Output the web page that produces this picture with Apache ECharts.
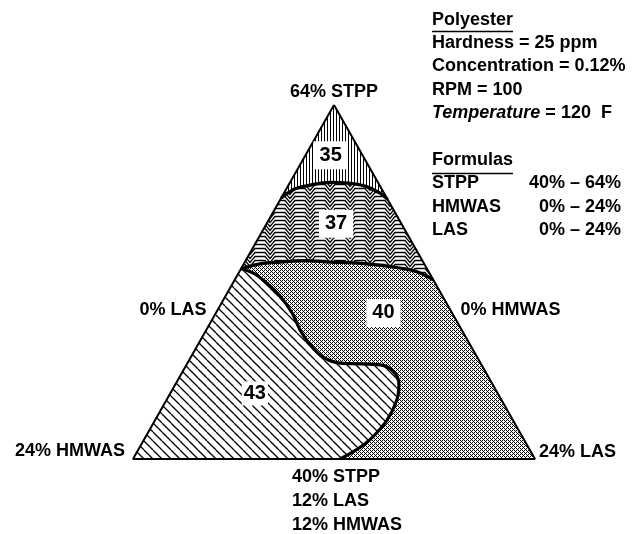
<!DOCTYPE html>
<html>
<head>
<meta charset="utf-8">
<script src="https://cdn.jsdelivr.net/npm/echarts@6/dist/echarts.min.js"></script>
<style>
  html, body { margin: 0; background: #fff; }
  #chart { width: 636px; height: 534px; }
</style>
</head>
<body>
<div id="chart"></div>
<script>
// ternary points are [LAS %, HMWAS %]; STPP = 64 - LAS - HMWAS
const apex = [0, 0]        // 64% STPP
const leftCorner = [0, 24]  // 24% HMWAS
const rightCorner = [24, 0] // 24% LAS

// contour boundaries
const curve35to37 = [[0, 6.3], [0.5, 5.2], [1.4, 4.0], [2.4, 2.85], [3.5, 1.8], [4.6, 0.9], [5.7, 0.25], [6.4, 0]]
const curve37to40 = [[0, 11.1], [0.97, 9.8], [2.1, 8.55], [3.55, 7.0], [5.1, 5.55], [6.6, 4.1], [8.15, 2.7], [9.45, 1.6], [10.6, 0.7], [11.85, 0]]
const curve40to43 = [[0, 11.1], [1.0, 10.45], [2.05, 10.05], [3.25, 9.7], [4.55, 9.55], [5.6, 9.65], [6.7, 9.55], [7.9, 9.2],
  [9.1, 8.4], [10.45, 7.1], [11.75, 5.9], [12.75, 5.45], [13.35, 5.6], [13.75, 6.25], [13.85, 7.5], [13.55, 9.0], [13.05, 10.3], [12.36, 11.64]]

const contourValues = [35, 37, 40, 43]
const contourLabelAt = [[1.5, 1.9], [4.15, 3.9], [10.0, 4.1], [5.05, 14.5]]

const cornerLabels = ['64% STPP', '24% HMWAS', '24% LAS']
const sideLabels = ['0% LAS', '0% HMWAS']
const baseLabel = ['40% STPP', '12% LAS', '12% HMWAS']

const conditions = ['Hardness = 25 ppm', 'Concentration = 0.12%', 'RPM = 100', '{i|Temperature} = 120  F']
const formulaNames = ['STPP', 'HMWAS', 'LAS']
const formulaRanges = ['40% \u2013 64%', '0% \u2013 24%', '0% \u2013 24%']

const FONT = '"Liberation Sans", Arial, sans-serif'

function toXY(p) {
  return [p[0] - p[1], 64 - p[0] - p[1]]
}

function makePattern(w, h, draw) {
  const c = document.createElement('canvas')
  c.width = w
  c.height = h
  const ctx = c.getContext('2d')
  ctx.fillStyle = '#fff'
  ctx.fillRect(0, 0, w, h)
  ctx.fillStyle = '#000'
  ctx.strokeStyle = '#000'
  draw(ctx, w, h)
  return { image: c, repeat: 'repeat' }
}

const verticalLines = makePattern(3, 4, ctx => ctx.fillRect(0, 0, 1, 4))
const zigzag = makePattern(20, 16, ctx => {
  ctx.lineWidth = 1.3
  for (let y = -16; y <= 16; y += 4) {
    ctx.beginPath()
    ctx.moveTo(0, y + 0.5)
    ctx.lineTo(5, y + 0.5)
    ctx.lineTo(10, y + 6.5)
    ctx.lineTo(15, y + 0.5)
    ctx.lineTo(20, y + 0.5)
    ctx.stroke()
  }
})
const stipple = makePattern(4, 4, ctx => {
  ctx.fillRect(0, 0, 1, 1)
  ctx.fillRect(2, 0, 1, 1)
  ctx.fillRect(1, 1, 1, 1)
  ctx.fillRect(0, 2, 1, 1)
  ctx.fillRect(2, 2, 1, 1)
  ctx.fillRect(3, 3, 1, 1)
})
const hatch = makePattern(9, 9, ctx => {
  ctx.lineWidth = 1.3
  for (let k = -1; k <= 1; k++) {
    ctx.beginPath()
    ctx.moveTo(0, k * 9)
    ctx.lineTo(9, k * 9 + 9)
    ctx.stroke()
  }
})

const regions = [
  [apex, ...curve35to37],
  [...curve35to37, ...curve37to40.slice().reverse()],
  [...curve37to40, rightCorner, ...curve40to43.slice().reverse()],
  [...curve40to43, leftCorner]
]
const fills = [verticalLines, zigzag, stipple, hatch]

const boundary = (pts) => ({
  type: 'line',
  data: pts.map(toXY),
  smooth: 0.35,
  symbol: 'none',
  lineStyle: { color: '#000', width: 3.2 },
  z: 3
})

const labelBase = {
  show: true, color: '#000', opacity: 1, fontFamily: FONT, fontWeight: 'bold', fontSize: 18,
  textBorderWidth: 0, textShadowBlur: 0
}

const chart = echarts.init(document.getElementById('chart'))
chart.setOption({
  animation: false,
  backgroundColor: '#fff',
  grid: { left: 133, right: 101, top: 105, bottom: 75 },
  xAxis: { type: 'value', min: -24, max: 24, show: false },
  yAxis: { type: 'value', min: 40, max: 64, show: false },
  series: [
    {
      type: 'custom',
      clip: false,
      data: regions.map((r, i) => i),
      renderItem(params, api) {
        const pts = regions[params.dataIndex].map(p => api.coord(toXY(p)))
        return { type: 'polygon', shape: { points: pts }, style: { fill: fills[params.dataIndex], stroke: null } }
      },
      z: 1
    },
    boundary(curve35to37),
    boundary(curve37to40),
    boundary(curve40to43),
    {
      type: 'line',
      data: [apex, leftCorner, rightCorner, apex].map(toXY),
      symbol: 'none',
      lineStyle: { color: '#000', width: 2 },
      z: 4
    },
    {
      type: 'scatter',
      symbolSize: 1,
      itemStyle: { color: 'rgba(0,0,0,0)', opacity: 1 },
      z: 6,
      data: [
        ...contourValues.map((v, i) => ({
          value: toXY(contourLabelAt[i]),
          label: {
            ...labelBase, formatter: String(v), fontSize: 20, position: 'inside',
            backgroundColor: '#fff', padding: i === 3 ? [2, 2] : [4, 6]
          }
        })),
        { value: toXY(apex), label: { ...labelBase, formatter: cornerLabels[0], position: 'top', distance: 3 } },
        { value: toXY(leftCorner), label: { ...labelBase, formatter: cornerLabels[1], position: 'inside', align: 'right', offset: [-8, -8] } },
        { value: toXY(rightCorner), label: { ...labelBase, formatter: cornerLabels[2], position: 'inside', align: 'left', offset: [4, -7] } },
        { value: toXY([0, 12]), label: { ...labelBase, formatter: sideLabels[0], position: 'inside', align: 'right', offset: [-27, 28] } },
        { value: toXY([12, 0]), label: { ...labelBase, formatter: sideLabels[1], position: 'inside', align: 'left', offset: [26, 28] } },
        {
          value: toXY([12, 12]),
          label: {
            ...labelBase, formatter: baseLabel.join('\n'), position: 'inside', align: 'left',
            verticalAlign: 'top', lineHeight: 24, offset: [-42, 6]
          }
        }
      ]
    }
  ],
  graphic: [
    { type: 'text', style: { x: 432, y: 20, text: 'Polyester', font: 'bold 18px ' + FONT, fill: '#000', verticalAlign: 'middle' } },
    { type: 'line', shape: { x1: 432, y1: 31.5, x2: 513, y2: 31.5 }, style: { stroke: '#000', lineWidth: 1.5 } },
    ...conditions.map((t, i) => ({
      type: 'text',
      style: {
        x: 432, y: 43 + i * 23.5, text: t, font: 'bold 18px ' + FONT, fill: '#000', verticalAlign: 'middle',
        rich: { i: { fontStyle: 'italic', fontWeight: 'bold', fontSize: 18, fontFamily: FONT } }
      }
    })),
    { type: 'text', style: { x: 432, y: 160, text: 'Formulas', font: 'bold 18px ' + FONT, fill: '#000', verticalAlign: 'middle' } },
    { type: 'line', shape: { x1: 432, y1: 173.5, x2: 513, y2: 173.5 }, style: { stroke: '#000', lineWidth: 1.5 } },
    ...formulaNames.map((t, i) => ({
      type: 'text', style: { x: 432, y: 183.5 + i * 23.5, text: t, font: 'bold 18px ' + FONT, fill: '#000', verticalAlign: 'middle' }
    })),
    ...formulaRanges.map((t, i) => ({
      type: 'text', style: { x: 621, y: 183.5 + i * 23.5, text: t, font: 'bold 18px ' + FONT, fill: '#000', align: 'right', verticalAlign: 'middle' }
    }))
  ]
})
</script>
</body>
</html>
